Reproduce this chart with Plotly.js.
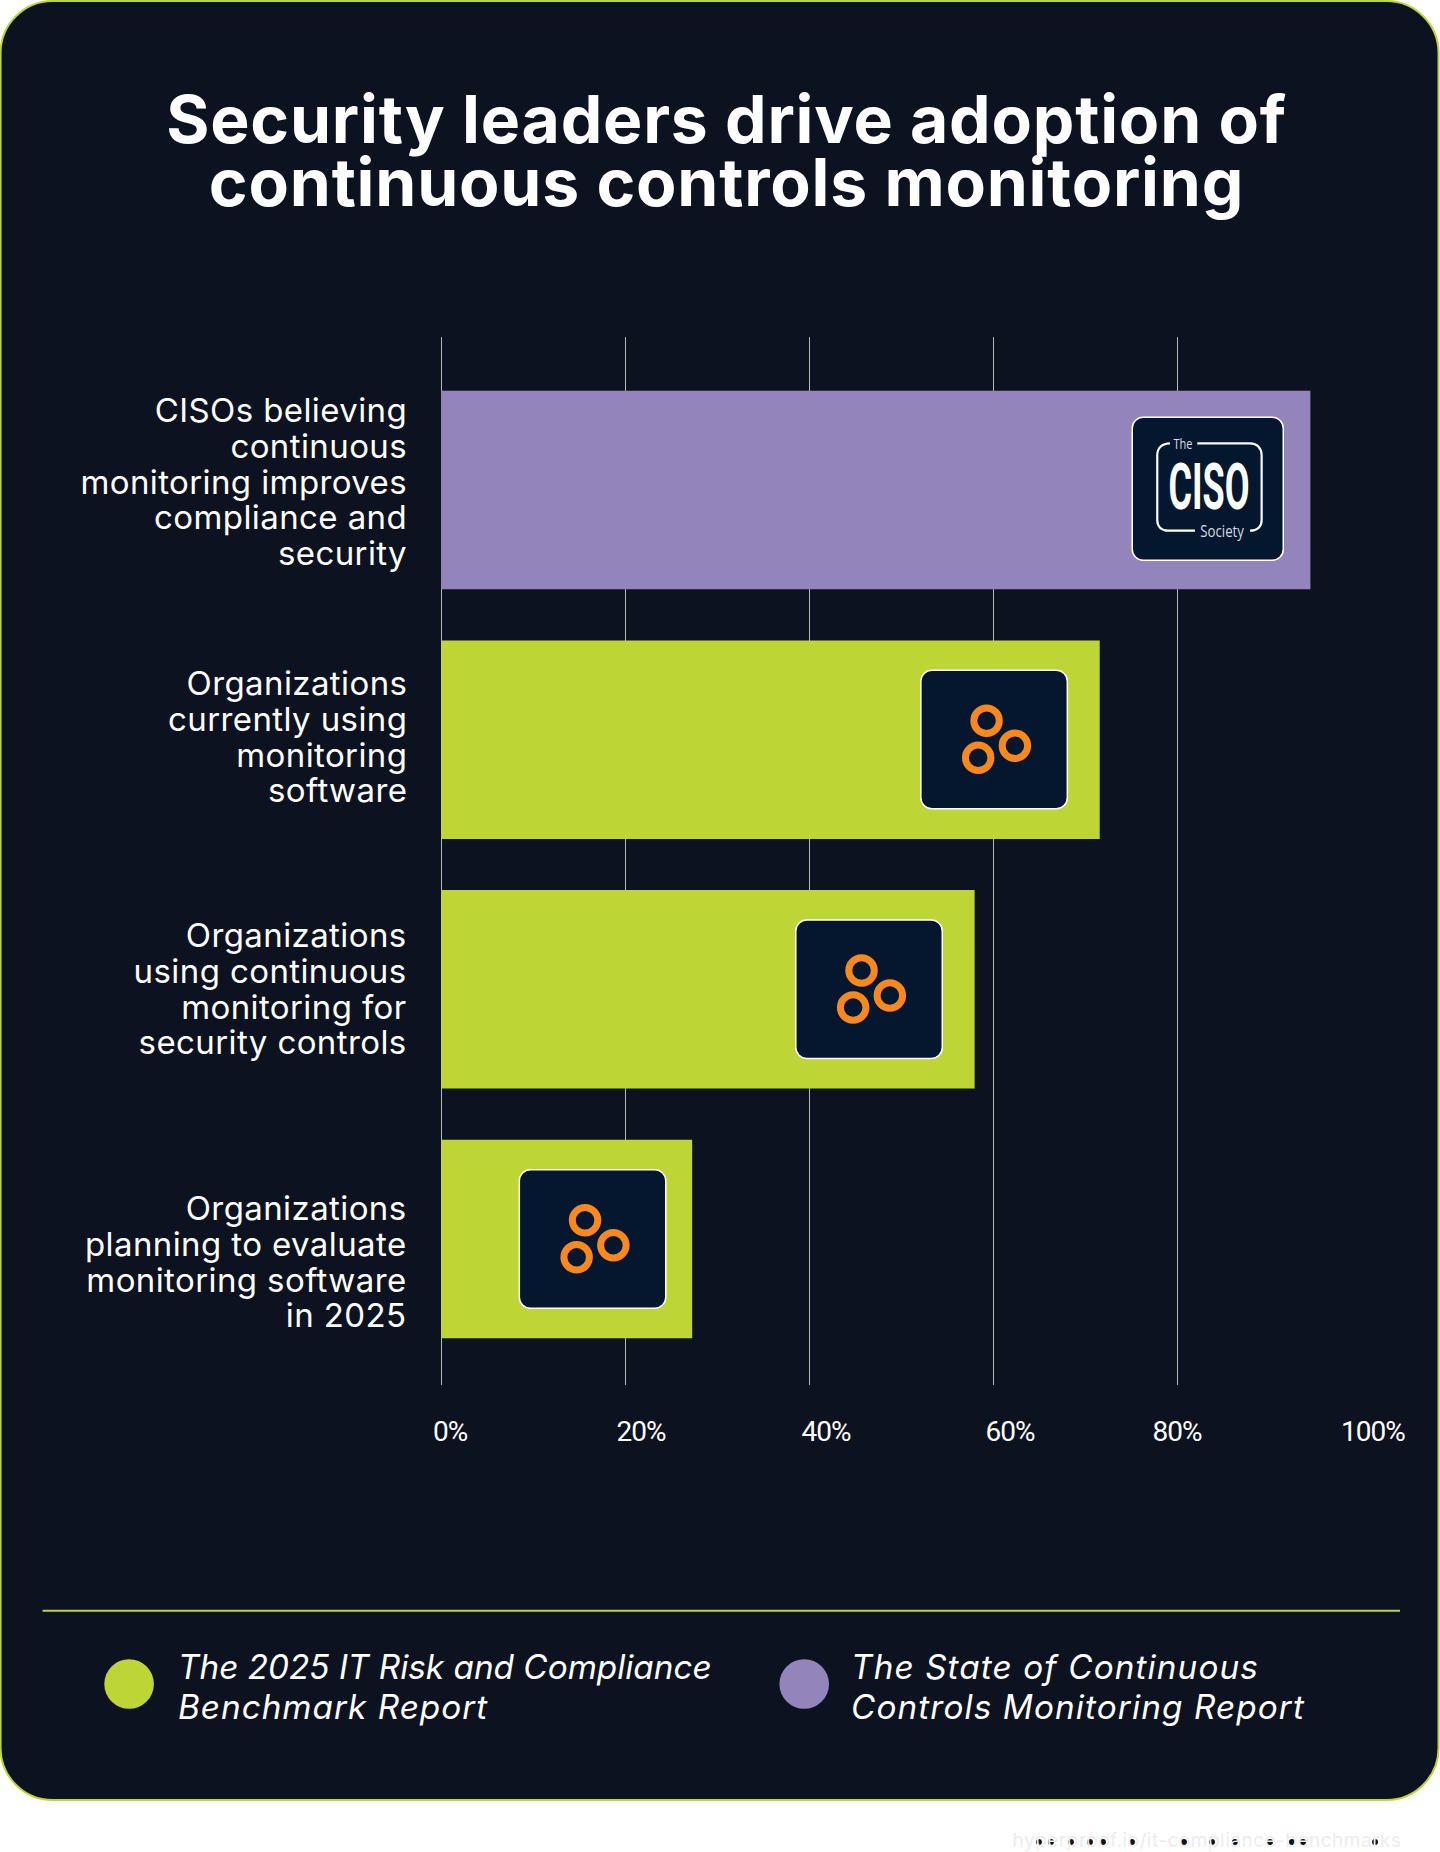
<!DOCTYPE html>
<html><head><meta charset="utf-8">
<script src="https://cdn.plot.ly/plotly-3.0.1.min.js"></script>
<style>html,body{margin:0;padding:0;background:#fff}#c{width:1440px;height:1852px}.gtitle{letter-spacing:.8px}</style>
</head><body><div id="c"></div>
<script>
const titleText = "Security leaders drive adoption of<br>continuous controls monitoring";
const categories = ["CISOs believing<br>continuous<br>monitoring improves<br>compliance and<br>security","Organizations<br>currently using<br>monitoring<br>software","Organizations<br>using continuous<br>monitoring for<br>security controls","Organizations<br>planning to evaluate<br>monitoring software<br>in 2025"];
const values = [94.5,71.6,58,27.3];
const reportOf = [1,0,0,0];
const reportNames = ["The 2025 IT Risk and Compliance<br>Benchmark Report","The State of Continuous<br>Controls Monitoring Report"];
const reportColors = ["#BDD635","#9484BC"];
const tickVals = [0,20,40,60,80,100];
const tickText = ["0%","20%","40%","60%","80%","100%"];
const tickShift = [9,16,16.5,16.7,0,12];
const labelShift = [-8,-3,0,23];
const font = "Inter, sans-serif";

const L=441.3,R=1361,T=337,B=1385,W=1440,H=1852;
const fx=X=>(X-L)/(R-L), fy=Y=>(B-Y)/(B-T);
function rr(x0,y0,x1,y1,r){
  const k=.45*r, p=(x,y)=>fx(x)+','+fy(y);
  return `M${p(x0+r,y0)}L${p(x1-r,y0)}C${p(x1-k,y0)} ${p(x1,y0+k)} ${p(x1,y0+r)}L${p(x1,y1-r)}C${p(x1,y1-k)} ${p(x1-k,y1)} ${p(x1-r,y1)}L${p(x0+r,y1)}C${p(x0+k,y1)} ${p(x0,y1-k)} ${p(x0,y1-r)}L${p(x0,y0+r)}C${p(x0,y0+k)} ${p(x0+k,y0)} ${p(x0+r,y0)}Z`;
}
const paper={xref:'paper',yref:'paper'};
const shapes=[];
shapes.push({...paper,type:'path',path:rr(1,1,1438.5,1800,52),fillcolor:'#0D1220',line:{color:'#BDD635',width:2},layer:'below'});
shapes.push({...paper,type:'line',x0:fx(43),x1:fx(1400),y0:fy(1610.7),y1:fy(1610.7),line:{color:'#BDD635',width:2},layer:'below'});
function circ(cx,cy,r,o){shapes.push({...paper,type:'circle',x0:fx(cx-r),x1:fx(cx+r),y0:fy(cy-r),y1:fy(cy+r),...o});}
circ(129.5,1684,24.8,{fillcolor:reportColors[0],line:{width:0},layer:'below'});
circ(804.4,1684,24.8,{fillcolor:reportColors[1],line:{width:0},layer:'below'});
function badge(x0,y0,x1,y1){shapes.push({...paper,type:'path',path:rr(x0,y0,x1,y1,11),fillcolor:'#04172F',line:{color:'#FFFFFF',width:1.5},layer:'above'});}
const cxs=[994.2,869.2,592.8], cys=[739.5,989.3,1239];
cxs.forEach((cx,i)=>{const cy=cys[i];
  badge(cx-73.2,cy-69.2,cx+73.2,cy+69.2);
  [[-7.5,-18.8],[20.8,6.2],[-15.9,18.2]].forEach(d=>circ(cx+d[0],cy+d[1],12.75,{fillcolor:'rgba(0,0,0,0)',line:{color:'#F9881E',width:7},layer:'above'}));
});
badge(1132.3,417.3,1283.3,560.3);
const q=(x,y)=>fx(1000+x/3)+','+fy(380+y/3);
shapes.push({...paper,type:'path',line:{color:'#FFFFFF',width:2.2},layer:'above',
 path:`M${q(510,190)}C${q(485,190)} ${q(472,205)} ${q(472,225)}L${q(472,420)}C${q(472,440)} ${q(485,452)} ${q(505,452)}L${q(585,452)}M${q(750,452)}C${q(772,452)} ${q(785,440)} ${q(785,420)}L${q(785,225)}C${q(785,205)} ${q(772,190)} ${q(750,190)}L${q(592,190)}`});
[1039,1051,1071,1090,1103,1132,1184,1212,1235,1270,1292,1303,1375].forEach(x=>circ(x,1842,3,{fillcolor:'#0D1220',line:{width:0},layer:'above'}));

const ann=[], meta=[];
function add(a,m){ann.push({showarrow:false,xanchor:'center',yanchor:'middle',...a});meta.push(m||{});}
const LBL=33, LBLem=1.085, LEG=33.3, LEGem=1.2;
const comp=(n,s,r)=>(n-1)*(1.3-r)*s/2;
categories.forEach((c,i)=>{const n=c.split('<br>').length;
  add({xref:'x',yref:'y',x:0,y:i,text:c,xanchor:'right',align:'right',xshift:-32.5,yshift:-labelShift[i]-comp(n,LBL,LBLem),font:{family:font,size:LBL,color:'#FFFFFF'}},{em:LBLem,ls:'.4px'});});
tickVals.forEach((v,i)=>add({xref:'x',yref:'paper',x:v,y:fy(1431.7),text:tickText[i],xshift:tickShift[i],font:{family:'Roboto',size:28,color:'#FFFFFF'}},{ls:'-1px'}));
[176,849].forEach((x,i)=>add({...paper,x:fx(x),y:fy(1687),yshift:-comp(2,LEG,LEGem),text:'<i>'+reportNames[i]+'</i>',xanchor:'left',align:'left',font:{family:font,size:LEG,color:'#FFFFFF'}},{em:LEGem,lsLines:i?['1.1px','1.1px']:['0','1px']}));
add({...paper,x:fx(1000+550/3),y:fy(380+190/3),text:'The',font:{family:'"Open Sans"',size:15,color:'#D8DCE2'}},{w:19,sy:1});
add({...paper,x:fx(1000+668/3),y:fy(380+450/3),text:'Society',font:{family:'"Open Sans"',size:17,color:'#D8DCE2'}},{w:44,sy:1});
add({...paper,x:fx(1000+628/3),y:fy(380+322/3),text:'<b>CISO</b>',font:{family:'Roboto',size:40,color:'#FFFFFF'}},{w:81,sy:1.6});
add({...paper,x:fx(1394),y:fy(1840),text:'hyperproof.io/it-compliance-benchmarks',xanchor:'right',font:{family:font,size:19,color:'#EDEDED'}},{ls:'.5px'});

const data=[{type:'bar',orientation:'h',y:categories.map((c,i)=>i),x:values,marker:{color:reportOf.map(r=>reportColors[r]),line:{width:0}},width:198.5/249.6,hoverinfo:'x'}];
const layout={width:W,height:H,margin:{l:L,r:W-R,t:T,b:H-B,pad:0},paper_bgcolor:'#FFFFFF',plot_bgcolor:'rgba(0,0,0,0)',showlegend:false,
 title:{text:titleText,x:726.5/W,xanchor:'center',y:1-143/H,yanchor:'top',font:{family:font,size:66,weight:700,color:'#FFFFFF'}},
 xaxis:{range:[0,100],tickvals:tickVals,ticktext:tickText,showticklabels:false,showgrid:true,gridcolor:'rgba(255,255,255,.7)',gridwidth:1,zeroline:true,zerolinecolor:'rgba(255,255,255,.7)',zerolinewidth:1,showline:false,ticks:''},
 yaxis:{range:[3+146/249.6,-153/249.6],tickmode:'array',tickvals:[],showgrid:false,zeroline:false,showline:false,ticks:''},
 shapes,annotations:ann};
Plotly.newPlot('c',data,layout,{staticPlot:true,displayModeBar:false}).then(()=>{
 document.querySelectorAll('.gtitle tspan.line').forEach((t,i)=>{ if(i>0) t.setAttribute('dy',(i*0.947)+'em'); });
 document.querySelectorAll('.annotation').forEach(g=>{
  const m=meta[+g.getAttribute('data-index')]; if(!m) return;
  const t=g.querySelector('text'); if(!t) return;
  if(m.ls) t.style.letterSpacing=m.ls;
  t.querySelectorAll('tspan.line').forEach((s,i)=>{
   if(m.em&&i>0) s.setAttribute('dy',(i*m.em)+'em');
   if(m.lsLines) s.style.letterSpacing=m.lsLines[i];
  });
  if(m.w){const b=t.getBBox(),cx=b.x+b.width/2,cy=b.y+b.height/2;
   t.setAttribute('transform',`translate(${cx},${cy}) scale(${m.w/b.width},${m.sy}) translate(${-cx},${-cy})`);}
 });
});
</script></body></html>
